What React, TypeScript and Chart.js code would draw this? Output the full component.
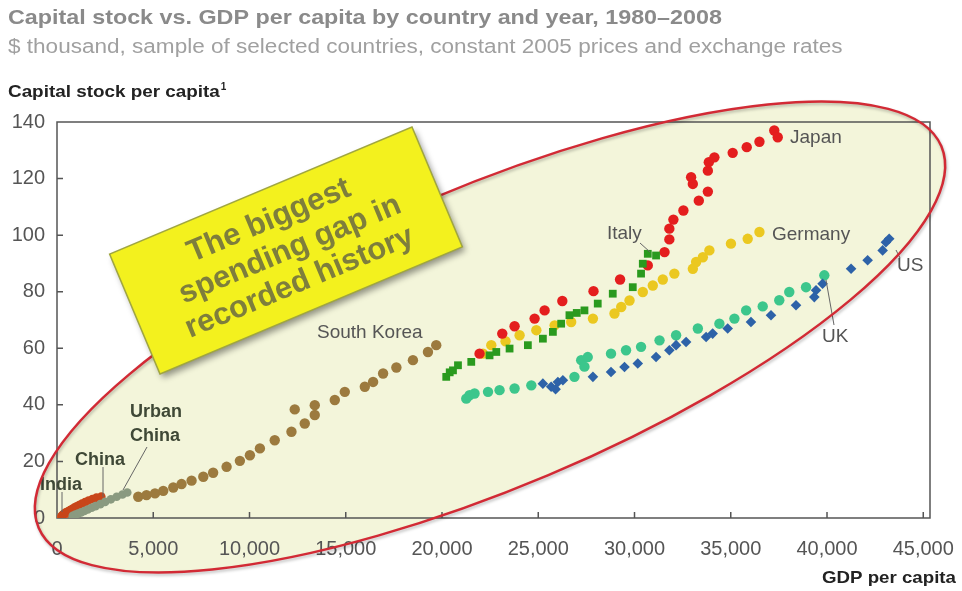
import React, { useEffect, useRef } from "react";
import { Chart, registerables } from "chart.js";
Chart.register(...registerables);

type P = [number, number];

const xTickValues = [0, 5000, 10000, 15000, 20000, 25000, 30000, 35000, 40000, 45000];
const yTickValues = [0, 20, 40, 60, 80, 100, 120, 140];

const india: P[] = [
  [230, 0.5], [260, 0.7], [290, 0.8], [320, 1.0], [350, 1.1], [390, 1.3], [430, 1.5], [470, 1.7], [520, 1.9], [570, 2.1], [630, 2.4], [700, 2.7], [780, 3.0],
];
const china: P[] = [
  [250, 0.8], [300, 1.1], [350, 1.4], [420, 1.8], [500, 2.1], [580, 2.4], [680, 2.8], [780, 3.2], [900, 3.7], [1020, 4.1], [1150, 4.6],
  [1300, 5.1], [1460, 5.6], [1640, 6.2], [1840, 6.7], [2050, 7.2], [2300, 7.6],
];
const urbanChina: P[] = [
  [820, 0.8], [960, 1.2], [1100, 1.6], [1250, 2.0], [1420, 2.5], [1600, 3.0], [1800, 3.6], [2000, 4.2], [2250, 4.9], [2500, 5.7],
  [2800, 6.6], [3100, 7.5], [3400, 8.3], [3650, 9.0],
];
const southKorea: P[] = [
  [4220, 7.5], [4650, 8.1], [5090, 8.7], [5520, 9.6], [6040, 10.8], [6470, 12.0], [6990, 13.2], [7600, 14.6], [8110, 16.0], [8810, 18.1],
  [9500, 20.2], [10020, 22.2], [10540, 24.6], [11310, 27.5], [12180, 30.5], [12870, 33.4], [13390, 36.4], [12350, 38.4], [13390, 39.9],
  [14430, 41.7], [14950, 44.6], [15990, 46.4], [16420, 48.1], [16940, 51.1], [17630, 53.2], [18490, 55.8], [19270, 58.7], [19700, 61.1],
];
const germany: P[] = [
  [22130, 58.1], [22560, 61.1], [23300, 62.5], [24030, 64.6], [24900, 66.4], [25850, 68.1], [26710, 69.3], [27840, 70.5], [28960, 72.3],
  [29310, 74.6], [29740, 76.9], [30430, 79.9], [30950, 82.2], [31470, 84.3], [32070, 86.4], [33030, 88.1], [33200, 90.5], [33550, 92.2],
  [33890, 94.6], [35010, 97.0], [35880, 98.7], [36490, 101.1],
];
const italy: P[] = [
  [20220, 49.9], [20400, 51.5], [20570, 52.2], [20830, 54.0], [21520, 55.2], [22470, 57.5], [22820, 58.7], [23510, 59.9], [24460, 61.1],
  [25240, 63.4], [25760, 65.8], [26190, 68.7], [26620, 71.7], [27000, 72.5], [27400, 73.4], [28090, 75.8], [28870, 79.3], [29910, 81.6],
  [30340, 86.4], [30430, 89.9], [30690, 93.4], [31120, 92.8],
];
const japan: P[] = [
  [21950, 58.1], [23130, 65.2], [23770, 67.8], [24810, 70.5], [25330, 73.4], [26250, 76.7], [27870, 80.2], [29250, 84.3], [30690, 89.3],
  [31560, 94.0], [31810, 98.5], [31810, 102.3], [32020, 105.5], [32540, 108.7], [33340, 112.2], [33810, 115.4], [33030, 118.1],
  [32940, 120.5], [33810, 122.8], [33860, 125.8], [34150, 127.5], [35100, 129.1], [35830, 131.1], [36490, 133.0], [37260, 137.0], [37440, 134.6],
];
const uk: P[] = [
  [21260, 42.2], [21430, 43.4], [21690, 44.0], [22390, 44.6], [22990, 45.2], [23770, 45.8], [24640, 46.9], [26880, 49.9], [27230, 55.8],
  [27570, 56.9], [27400, 53.5], [28780, 58.1], [29560, 59.3], [30340, 60.5], [31300, 62.8], [32160, 64.6], [33290, 67.0], [34410, 68.7],
  [35190, 70.5], [35800, 73.4], [36660, 74.8], [37520, 77.0], [38040, 79.9], [38910, 81.6], [39860, 85.8],
];
const us: P[] = [
  [25240, 47.5], [25670, 46.4], [25900, 45.5], [26020, 48.1], [26280, 48.7], [27840, 49.9], [28780, 51.6], [29480, 53.4], [30170, 54.6],
  [31120, 56.9], [31810, 59.3], [32160, 61.1], [32680, 62.2], [33720, 64.0], [34060, 65.2], [34840, 67.0], [36050, 69.3], [37090, 71.7],
  [38390, 75.2], [39340, 78.1], [39430, 80.5], [39770, 82.8], [41250, 88.1], [42110, 91.1], [42890, 94.6], [43060, 97.5], [43230, 98.7],
];

const FONT = '"Liberation Sans", Arial, sans-serif';

const toPts = (a: P[]) => a.map(([x, y]) => ({ x, y }));

function stretchText(c: CanvasRenderingContext2D, text: string, x: number, y: number, sx: number, align: "left" | "right") {
  c.save();
  c.translate(x, y);
  c.scale(sx, 1);
  c.textAlign = align;
  c.fillText(text, 0, 0);
  c.restore();
}

const decor = {
  id: "decor",
  beforeDraw(chart: any) {
    const c = chart.ctx;
    c.save();
    c.fillStyle = "#ffffff";
    c.fillRect(0, 0, chart.width, chart.height);
    c.beginPath();
    c.ellipse(490, 337, 490, 150, (-22.9 * Math.PI) / 180, 0, Math.PI * 2);
    c.fillStyle = "#f3f5da";
    c.fill();
    c.restore();
  },
  beforeDatasetsDraw(chart: any) {
    const c = chart.ctx;
    const a = chart.chartArea;
    const xs = chart.scales.x;
    const ys = chart.scales.y;
    c.save();
    c.strokeStyle = "#555";
    c.lineWidth = 1.5;
    c.strokeRect(a.left, a.top, a.right - a.left, a.bottom - a.top);
    c.beginPath();
    for (const v of yTickValues) {
      if (v === 0 || v === 140) continue;
      const py = ys.getPixelForValue(v);
      c.moveTo(a.left, py);
      c.lineTo(a.left + 6, py);
    }
    for (const v of xTickValues) {
      if (v === 0) continue;
      const px = xs.getPixelForValue(v);
      c.moveTo(px, a.bottom);
      c.lineTo(px, a.bottom - 6);
    }
    c.stroke();
    c.restore();
  },
  afterDraw(chart: any) {
    const c = chart.ctx;
    c.save();
    // titles
    c.textBaseline = "middle";
    c.fillStyle = "#8a8a8a";
    c.font = `bold 21px ${FONT}`;
    stretchText(c, "Capital stock vs. GDP per capita by country and year, 1980\u20132008", 8, 18, 1.11, "left");
    c.fillStyle = "#a0a0a0";
    c.font = `20px ${FONT}`;
    stretchText(c, "$ thousand, sample of selected countries, constant 2005 prices and exchange rates", 8, 47, 1.127, "left");
    c.fillStyle = "#222";
    c.font = `bold 17px ${FONT}`;
    stretchText(c, "Capital stock per capita", 8, 92, 1.11, "left");
    const w = c.measureText("Capital stock per capita").width * 1.11;
    c.font = `bold 10px ${FONT}`;
    c.textAlign = "left";
    c.fillText("1", 8 + w + 1, 87);
    c.font = `bold 17px ${FONT}`;
    stretchText(c, "GDP per capita", 956, 578, 1.1, "right");

    // leader lines
    c.strokeStyle = "#666";
    c.lineWidth = 1;
    c.beginPath();
    c.moveTo(640, 243); c.lineTo(650, 252);
    c.moveTo(826, 280); c.lineTo(834, 325);
    c.moveTo(896, 250); c.lineTo(900, 258);
    c.moveTo(147, 447); c.lineTo(123, 490);
    c.moveTo(103, 467); c.lineTo(103, 497);
    c.moveTo(62, 492); c.lineTo(62, 512);
    c.stroke();

    // country labels
    c.textAlign = "left";
    c.fillStyle = "#555";
    c.font = `19px ${FONT}`;
    c.fillText("Japan", 790, 138);
    c.fillText("Germany", 772, 235);
    c.fillText("Italy", 607, 234);
    c.fillText("US", 897, 266);
    c.fillText("UK", 822, 337);
    c.fillText("South Korea", 317, 333);
    c.fillStyle = "#3f4836";
    c.font = `bold 18px ${FONT}`;
    c.fillText("Urban", 130, 412);
    c.fillText("China", 130, 436);
    c.fillText("China", 75, 460);
    c.fillText("India", 40, 485);

    // ellipse outline
    c.beginPath();
    c.ellipse(490, 337, 490, 150, (-22.9 * Math.PI) / 180, 0, Math.PI * 2);
    c.strokeStyle = "#d22a35";
    c.lineWidth = 2.5;
    c.shadowColor = "rgba(0,0,0,0.25)";
    c.shadowBlur = 3;
    c.shadowOffsetX = 1;
    c.shadowOffsetY = 2;
    c.stroke();

    // yellow box
    c.translate(286, 250.5);
    c.rotate((-22.8 * Math.PI) / 180);
    c.shadowColor = "rgba(0,0,0,0.4)";
    c.shadowBlur = 6;
    c.shadowOffsetX = 3;
    c.shadowOffsetY = 4;
    c.fillStyle = "#f3f11e";
    c.fillRect(-164, -65, 328, 130);
    c.shadowColor = "transparent";
    c.strokeStyle = "#a0a640";
    c.lineWidth = 1.5;
    c.strokeRect(-164, -65, 328, 130);
    c.fillStyle = "#7e7e3c";
    c.textAlign = "center";
    c.textBaseline = "middle";
    c.font = `bold 31px ${FONT}`;
    c.fillText("The biggest", -4, -34);
    c.fillText("spending gap in", 4, 1);
    c.fillText("recorded history", 0, 35);
    c.restore();
  },
};

export default function App() {
  const ref = useRef<HTMLCanvasElement>(null);
  useEffect(() => {
    document.body.style.margin = "0";
    const canvas = ref.current!;
    const tickFont = { family: FONT, size: 20 };
    const mk = (label: string, data: P[], color: string, style: string, r: number) => ({
      label,
      data: toPts(data),
      backgroundColor: color,
      borderColor: color,
      borderWidth: 0,
      pointStyle: style,
      pointRadius: r,
    });
    const noPad = (s: any) => {
      s.paddingLeft = 0;
      s.paddingRight = 0;
      s.paddingTop = 0;
      s.paddingBottom = 0;
    };
    const chart = new Chart(canvas, {
      type: "scatter",
      data: {
        datasets: [
          mk("Italy", italy, "#2a9a1e", "rect", 5.5),
          mk("Japan", japan, "#e41e1e", "circle", 5.2),
          mk("Germany", germany, "#ebc820", "circle", 5.2),
          mk("US", us, "#2d62a8", "rectRot", 5.3),
          mk("UK", uk, "#3cc68c", "circle", 5.2),
          mk("South Korea", southKorea, "#9c7a3e", "circle", 5.2),
          mk("Urban China", urbanChina, "#8a9a80", "circle", 4.3),
          mk("China", china, "#c8461a", "circle", 4.3),
          mk("India", india, "#e0561c", "circle", 4.3),
        ],
      },
      options: {
        responsive: false,
        animation: false,
        layout: { padding: { left: 0, top: 122, right: 32, bottom: 0 } },
        plugins: { legend: { display: false }, tooltip: { enabled: false } },
        scales: {
          x: {
            type: "linear",
            min: 0,
            max: 45350,
            afterFit: (s: any) => { s.height = 73; noPad(s); },
            afterBuildTicks: (s: any) => { s.ticks = xTickValues.map((v) => ({ value: v })); },
            grid: { display: false, drawTicks: false },
            border: { display: false },
            ticks: {
              padding: 19,
              font: tickFont,
              color: "#555",
              maxRotation: 0,
              autoSkip: false,
              callback: (v: any) => Number(v).toLocaleString("en-US"),
            },
          },
          y: {
            type: "linear",
            min: 0,
            max: 140,
            afterFit: (s: any) => { s.width = 57; noPad(s); },
            afterBuildTicks: (s: any) => { s.ticks = yTickValues.map((v) => ({ value: v })); },
            grid: { display: false, drawTicks: false },
            border: { display: false },
            ticks: { padding: 12, font: tickFont, color: "#555", autoSkip: false },
          },
        },
      },
      plugins: [decor],
    } as any);
    return () => chart.destroy();
  }, []);
  return <canvas ref={ref} width={962} height={591} style={{ display: "block" }} />;
}
